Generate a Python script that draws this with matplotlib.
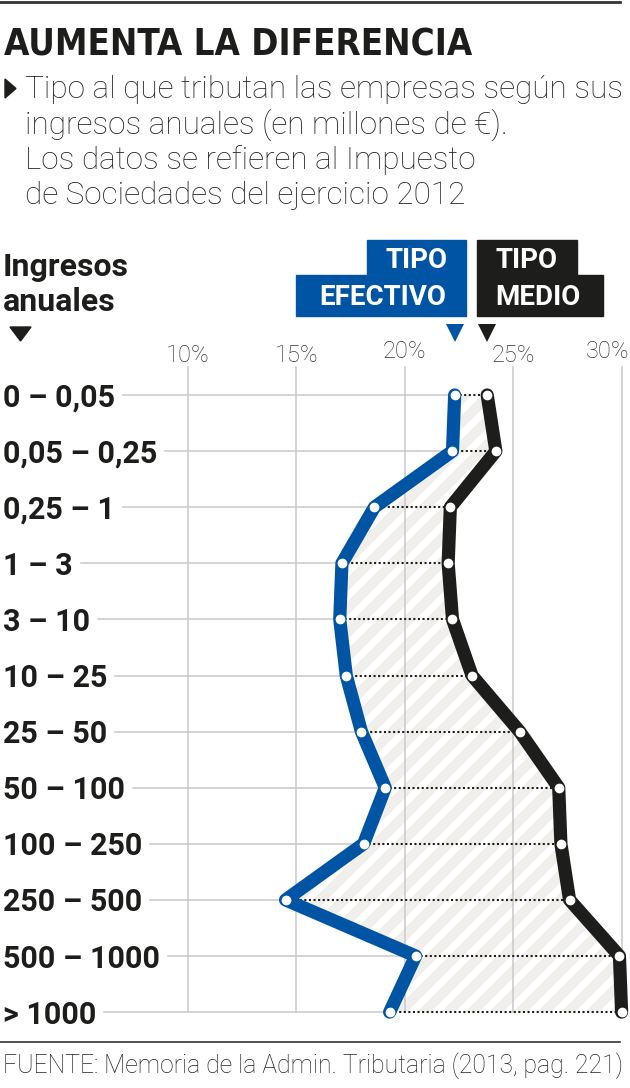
import numpy as np
import matplotlib
matplotlib.use('Agg')
import matplotlib.pyplot as plt
from matplotlib import font_manager
from matplotlib.lines import Line2D
from matplotlib.patches import Polygon

# datos (Memoria de la Admin. Tributaria, IS 2012)
tramos = ['0 – 0,05', '0,05 – 0,25', '0,25 – 1', '1 – 3', '3 – 10', '10 – 25',
          '25 – 50', '50 – 100', '100 – 250', '250 – 500', '500 – 1000', '> 1000']
tipo_efectivo = [22.3, 22.2, 18.6, 17.1, 17.0, 17.3, 18.0, 19.1, 18.1, 14.5, 20.5, 19.3]
tipo_medio = [23.8, 24.2, 22.1, 22.0, 22.2, 23.1, 25.3, 27.1, 27.2, 27.6, 29.9, 30.0]
ticks = [10, 15, 20, 25, 30]
tick_labels = ['10%', '15%', '20%', '25%', '30%']

BLUE = '#0054a4'
BLACK = '#1d1d1b'
GRID = '#c9c9c9'
W, H = 630, 1088

cond = [f for f in font_manager.fontManager.ttflist
        if ('Condensed' in f.name or 'Narrow' in f.name or f.stretch == 'condensed')]
title_font = cond[0].name if cond else 'Roboto'
title_stretch = 'condensed' if cond else 'normal'


def fx(x):
    return x / W


def fy(y):
    return 1 - y / H


fig = plt.figure(figsize=(6.3, 10.88), dpi=100)
# one axes over the whole figure: 1% = 21.68 px, one row = 56.1 px
ax = fig.add_axes([0, 0, 1, 1])
x0, ppct = -28.8, 21.68
y0, prow = 395.0, 56.1
ax.set_xlim((0 - x0) / ppct, (W - x0) / ppct)
ax.set_ylim((H - y0) / prow, (0 - y0) / prow)
ax.axis('off')

rows = np.arange(len(tramos))
ef = np.array(tipo_efectivo)
me = np.array(tipo_medio)

# area between both lines, with white diagonal stripes
band = ax.fill_betweenx(rows, ef, me, facecolor='#f0efeb', linewidth=0, zorder=1)
clip = band.get_paths()[0]
for c in np.arange(-1200, 700, 24):
    ln = Line2D([c, c + 1100], [0, 1100], color='white', lw=5,
                transform=None, zorder=1.5)
    ax.add_line(ln)
    ln.set_clip_path(clip, ax.transData)

# vertical grid + tick labels
for i, (t, lab) in enumerate(zip(ticks, tick_labels)):
    ax.plot([t, t], [(367 - y0) / prow, rows[-1]], color=GRID, lw=1.1, zorder=2)
    dy = 0 if i in (0, 1, 3) else -4
    last = i == len(ticks) - 1
    ax.text((629 - x0) / ppct if last else t, (362 + dy - y0) / prow, lab,
            ha='right' if last else 'center', va='baseline',
            fontsize=17, family='Roboto', weight='light', color='#333333')

# row labels
labels = []
for r, lab in zip(rows, tramos):
    labels.append(ax.text((3 - x0) / ppct, r + 11.5 / prow, lab, ha='left', va='baseline',
                          fontsize=22, family='Roboto', weight='bold', color=BLACK))

# header texts
title = fig.text(fx(4), fy(55), 'AUMENTA LA DIFERENCIA', fontsize=30, family=title_font,
                 fontstretch=title_stretch, weight='bold', color=BLACK)
sub = ['Tipo al que tributan las empresas según sus',
       'ingresos anuales (en millones de €).',
       'Los datos se refieren al Impuesto',
       'de Sociedades del ejercicio 2012']
subs = []
for k, s in enumerate(sub):
    subs.append(fig.text(fx(25), fy(98 + 35.3 * k), s, fontsize=20, family='Roboto',
                         weight='light', color='#222222'))
fig.add_artist(Polygon([[fx(5), fy(79)], [fx(5), fy(98)], [fx(16), fy(88.5)]],
                       closed=True, color=BLACK, transform=fig.transFigure))

fig.text(fx(3), fy(276), 'Ingresos', fontsize=23, family='Roboto', weight='bold', color=BLACK)
fig.text(fx(3), fy(311), 'anuales', fontsize=23, family='Roboto', weight='bold', color=BLACK)
fig.add_artist(Polygon([[fx(10), fy(327)], [fx(31), fy(327)], [fx(20.5), fy(341)]],
                       closed=True, color=BLACK, transform=fig.transFigure))

# legend boxes
fig.add_artist(Polygon([[fx(367), fy(240)], [fx(466), fy(240)], [fx(466), fy(316)],
                        [fx(296), fy(316)], [fx(296), fy(275)], [fx(367), fy(275)]],
                       closed=True, color=BLUE, transform=fig.transFigure))
fig.add_artist(Polygon([[fx(477), fy(240)], [fx(577), fy(240)], [fx(577), fy(275)],
                        [fx(603), fy(275)], [fx(603), fy(316)], [fx(477), fy(316)]],
                       closed=True, color=BLACK, transform=fig.transFigure))
for x, y, s in [(417, 268, 'TIPO'), (383, 305, 'EFECTIVO'),
                (526, 268, 'TIPO'), (538, 305, 'MEDIO')]:
    fig.text(fx(x), fy(y), s, ha='center', fontsize=20, family='Roboto',
             weight='bold', color='white')
# triangles pointing at the first row
ax.plot([ef[0]], [(333 - y0) / prow], marker='v', ms=13, color=BLUE, mew=0)
ax.plot([me[0]], [(333 - y0) / prow], marker='v', ms=13, color=BLACK, mew=0)

foot = fig.text(fx(3), fy(1073), 'FUENTE: Memoria de la Admin. Tributaria (2013, pag. 221)',
                fontsize=17, family='Roboto', weight='light', color='#222222')
fig.add_artist(Line2D([0, fx(620)], [fy(2), fy(2)], color='#333333', lw=2,
                      transform=fig.transFigure))
fig.add_artist(Line2D([0, fx(620)], [fy(1042), fy(1042)], color='#333333', lw=1.2,
                      transform=fig.transFigure))

# fit widths of header / footer texts to the reference
fig.canvas.draw()
rend = fig.canvas.get_renderer()
w = title.get_window_extent(rend).width
title.set_fontsize(title.get_fontsize() * 468 / w)
w = subs[0].get_window_extent(rend).width
for t in subs:
    t.set_fontsize(t.get_fontsize() * 598 / w)
w = foot.get_window_extent(rend).width
foot.set_fontsize(foot.get_fontsize() * 618 / w)

# horizontal grid from label end to the blue point, dotted link to the black one
inv = ax.transData.inverted()
for r, t in zip(rows, labels):
    bb = t.get_window_extent(rend)
    xs = inv.transform((bb.x1 + 8, 0))[0]
    ax.plot([xs, ef[r]], [r, r], color=GRID, lw=1.1, zorder=2)
    ax.plot([ef[r], me[r]], [r, r], color=BLACK, lw=1.5, ls=(0, (1, 1.2)), zorder=3)

ax.plot(ef, rows, color=BLUE, lw=9.5, solid_joinstyle='round', solid_capstyle='round', zorder=4)
ax.plot(me, rows, color=BLACK, lw=9.5, solid_joinstyle='round', solid_capstyle='round', zorder=4)
ax.plot(ef, rows, ls='none', marker='o', ms=7, mfc='white', mew=0, zorder=5)
ax.plot(me, rows, ls='none', marker='o', ms=7, mfc='white', mew=0, zorder=5)

fig.savefig('out.png', dpi=100)
